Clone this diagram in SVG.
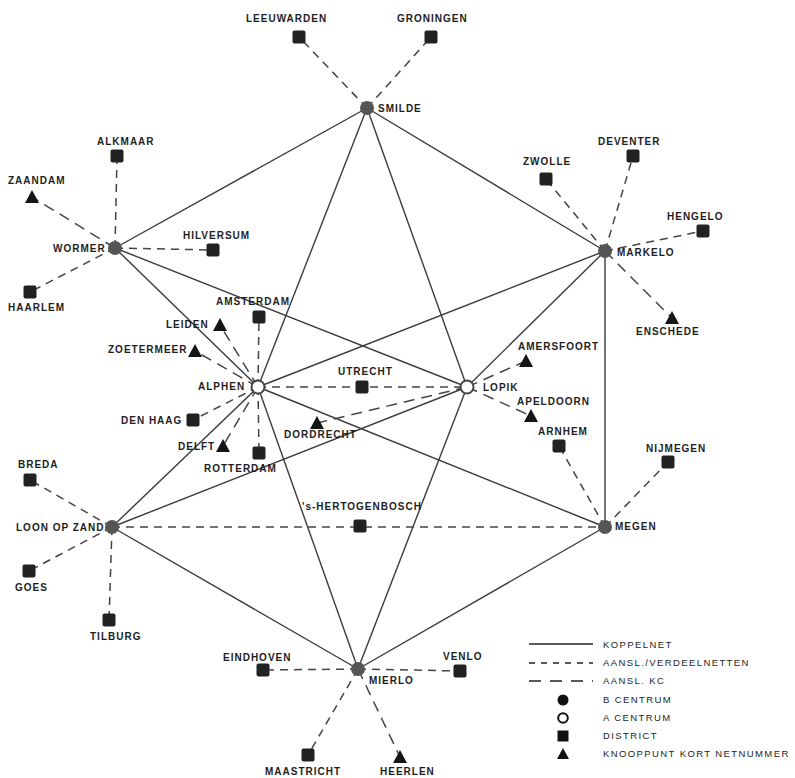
<svg xmlns="http://www.w3.org/2000/svg" xmlns:xlink="http://www.w3.org/1999/xlink" width="795" height="778" viewBox="0 0 795 778">
<style>
text{font-family:"Liberation Sans",Arial,sans-serif;font-size:10px;font-weight:bold;letter-spacing:1px;fill:#1e1e1e}
.leg text{font-weight:normal;font-size:9.5px;letter-spacing:1.4px}
.k{stroke:#3c3c3c;stroke-width:1.4;fill:none}
.d{stroke:#444;stroke-width:1.5;stroke-dasharray:8 6;fill:none}
.t{stroke:#444;stroke-width:1.5;stroke-dasharray:11 7;fill:none}
.b{fill:#555}
.a{fill:#fff;stroke:#444;stroke-width:2}
.sq{fill:#222}
.tr{fill:#151515}
</style>
<defs>
<rect id="sq" x="-6.5" y="-6.5" width="13" height="13" rx="2"/>
<polygon id="tr" points="0,-7 7,6 -7,6"/>
</defs>
<rect width="795" height="778" fill="#fff"/>
<g id="connectors">
<line class="k" x1="367" y1="108" x2="115" y2="248"/>
<line class="k" x1="367" y1="108" x2="605" y2="251"/>
<line class="k" x1="367" y1="108" x2="258" y2="387"/>
<line class="k" x1="367" y1="108" x2="467" y2="387"/>
<line class="k" x1="115" y1="248" x2="258" y2="387"/>
<line class="k" x1="115" y1="248" x2="467" y2="387"/>
<line class="k" x1="605" y1="251" x2="258" y2="387"/>
<line class="k" x1="605" y1="251" x2="467" y2="387"/>
<line class="k" x1="605" y1="251" x2="605" y2="527"/>
<line class="k" x1="112" y1="527" x2="258" y2="387"/>
<line class="k" x1="112" y1="527" x2="467" y2="387"/>
<line class="k" x1="112" y1="527" x2="358" y2="669"/>
<line class="k" x1="605" y1="527" x2="358" y2="669"/>
<line class="k" x1="258" y1="387" x2="605" y2="527"/>
<line class="k" x1="258" y1="387" x2="358" y2="669"/>
<line class="k" x1="467" y1="387" x2="358" y2="669"/>
<line class="d" x1="367" y1="108" x2="299" y2="37"/>
<line class="d" x1="367" y1="108" x2="431" y2="37"/>
<line class="d" x1="115" y1="248" x2="117" y2="156"/>
<line class="t" x1="115" y1="248" x2="32" y2="197"/>
<line class="d" x1="115" y1="248" x2="213" y2="250"/>
<line class="d" x1="115" y1="248" x2="30" y2="292"/>
<line class="d" x1="605" y1="251" x2="546" y2="179"/>
<line class="d" x1="605" y1="251" x2="633" y2="156"/>
<line class="d" x1="605" y1="251" x2="703" y2="231"/>
<line class="t" x1="605" y1="251" x2="672" y2="318"/>
<line class="d" x1="258" y1="387" x2="259" y2="317"/>
<line class="t" x1="258" y1="387" x2="220" y2="325"/>
<line class="t" x1="258" y1="387" x2="195" y2="351"/>
<line class="d" x1="258" y1="387" x2="193" y2="420"/>
<line class="t" x1="258" y1="387" x2="223" y2="446"/>
<line class="d" x1="258" y1="387" x2="259" y2="453"/>
<line class="d" x1="258" y1="387" x2="467" y2="387"/>
<line class="t" x1="467" y1="387" x2="526" y2="361"/>
<line class="t" x1="467" y1="387" x2="531" y2="416"/>
<line class="t" x1="467" y1="387" x2="317" y2="423"/>
<line class="d" x1="112" y1="527" x2="605" y2="527"/>
<line class="d" x1="112" y1="527" x2="30" y2="480"/>
<line class="d" x1="112" y1="527" x2="29" y2="571"/>
<line class="d" x1="112" y1="527" x2="109" y2="620"/>
<line class="d" x1="605" y1="527" x2="559" y2="446"/>
<line class="d" x1="605" y1="527" x2="668" y2="462"/>
<line class="d" x1="358" y1="669" x2="263" y2="670"/>
<line class="d" x1="358" y1="669" x2="460" y2="671"/>
<line class="d" x1="358" y1="669" x2="308" y2="755"/>
<line class="t" x1="358" y1="669" x2="400" y2="757"/>
</g>
<g id="smilde"><circle class="b" cx="367" cy="108" r="7"/><text x="378" y="112">SMILDE</text></g>
<g id="wormer"><circle class="b" cx="115" cy="248" r="7"/><text x="53" y="252">WORMER</text></g>
<g id="markelo"><circle class="b" cx="605" cy="251" r="7"/><text x="617" y="256">MARKELO</text></g>
<g id="loonopzand"><circle class="b" cx="112" cy="527" r="7"/><text x="16" y="531">LOON OP ZAND</text></g>
<g id="megen"><circle class="b" cx="605" cy="527" r="7"/><text x="615" y="530">MEGEN</text></g>
<g id="mierlo"><circle class="b" cx="358" cy="669" r="7"/><text x="369" y="684">MIERLO</text></g>
<g id="alphen"><circle class="a" cx="258" cy="387" r="6.5"/><text x="198" y="390">ALPHEN</text></g>
<g id="lopik"><circle class="a" cx="467" cy="387" r="6.5"/><text x="483" y="391">LOPIK</text></g>
<g id="leeuwarden"><use href="#sq" class="sq" x="299" y="37"/><text x="246" y="22">LEEUWARDEN</text></g>
<g id="groningen"><use href="#sq" class="sq" x="431" y="37"/><text x="397" y="22">GRONINGEN</text></g>
<g id="alkmaar"><use href="#sq" class="sq" x="117" y="156"/><text x="97" y="145">ALKMAAR</text></g>
<g id="zaandam"><use href="#tr" class="tr" x="32" y="197"/><text x="8" y="184">ZAANDAM</text></g>
<g id="hilversum"><use href="#sq" class="sq" x="213" y="250"/><text x="183" y="239">HILVERSUM</text></g>
<g id="haarlem"><use href="#sq" class="sq" x="30" y="292"/><text x="8" y="311">HAARLEM</text></g>
<g id="zwolle"><use href="#sq" class="sq" x="546" y="179"/><text x="523" y="165">ZWOLLE</text></g>
<g id="deventer"><use href="#sq" class="sq" x="633" y="156"/><text x="598" y="145">DEVENTER</text></g>
<g id="hengelo"><use href="#sq" class="sq" x="703" y="231"/><text x="667" y="220">HENGELO</text></g>
<g id="enschede"><use href="#tr" class="tr" x="672" y="318"/><text x="636" y="335">ENSCHEDE</text></g>
<g id="amsterdam"><use href="#sq" class="sq" x="259" y="317"/><text x="216" y="305">AMSTERDAM</text></g>
<g id="leiden"><use href="#tr" class="tr" x="220" y="325"/><text x="166" y="328">LEIDEN</text></g>
<g id="zoetermeer"><use href="#tr" class="tr" x="195" y="351"/><text x="108" y="353">ZOETERMEER</text></g>
<g id="denhaag"><use href="#sq" class="sq" x="193" y="420"/><text x="121" y="424">DEN HAAG</text></g>
<g id="delft"><use href="#tr" class="tr" x="223" y="446"/><text x="178" y="450">DELFT</text></g>
<g id="rotterdam"><use href="#sq" class="sq" x="259" y="453"/><text x="204" y="472">ROTTERDAM</text></g>
<g id="utrecht"><use href="#sq" class="sq" x="362" y="387"/><text x="338" y="375">UTRECHT</text></g>
<g id="dordrecht"><use href="#tr" class="tr" x="317" y="423"/><text x="284" y="438">DORDRECHT</text></g>
<g id="amersfoort"><use href="#tr" class="tr" x="526" y="361"/><text x="518" y="350">AMERSFOORT</text></g>
<g id="apeldoorn"><use href="#tr" class="tr" x="531" y="416"/><text x="517" y="405">APELDOORN</text></g>
<g id="arnhem"><use href="#sq" class="sq" x="559" y="446"/><text x="538" y="435">ARNHEM</text></g>
<g id="nijmegen"><use href="#sq" class="sq" x="668" y="462"/><text x="646" y="452">NIJMEGEN</text></g>
<g id="shertogenbosch"><use href="#sq" class="sq" x="360" y="526"/><text x="302" y="510">'s-HERTOGENBOSCH</text></g>
<g id="breda"><use href="#sq" class="sq" x="30" y="480"/><text x="18" y="468">BREDA</text></g>
<g id="goes"><use href="#sq" class="sq" x="29" y="571"/><text x="15" y="591">GOES</text></g>
<g id="tilburg"><use href="#sq" class="sq" x="109" y="620"/><text x="90" y="640">TILBURG</text></g>
<g id="eindhoven"><use href="#sq" class="sq" x="263" y="670"/><text x="223" y="661">EINDHOVEN</text></g>
<g id="venlo"><use href="#sq" class="sq" x="460" y="671"/><text x="443" y="660">VENLO</text></g>
<g id="maastricht"><use href="#sq" class="sq" x="308" y="755"/><text x="265" y="775">MAASTRICHT</text></g>
<g id="heerlen"><use href="#tr" class="tr" x="400" y="757"/><text x="380" y="775">HEERLEN</text></g>
<g id="legend" class="leg">
<line x1="529" y1="644" x2="593" y2="644" stroke="#222" stroke-width="1.3"/>
<line x1="529" y1="663" x2="593" y2="663" stroke="#222" stroke-width="1.3" stroke-dasharray="6 6"/>
<line x1="529" y1="681" x2="593" y2="681" stroke="#222" stroke-width="1.3" stroke-dasharray="12 9"/>
<circle cx="563" cy="700" r="5.5" fill="#111"/>
<circle cx="563" cy="718" r="4.8" fill="#fff" stroke="#111" stroke-width="2"/>
<rect x="557.5" y="730.5" width="11" height="11" fill="#111"/>
<polygon points="563,748 569,759 557,759" fill="#111"/>
<text x="603" y="648">KOPPELNET</text>
<text x="603" y="666">AANSL./VERDEELNETTEN</text>
<text x="603" y="684">AANSL. KC</text>
<text x="603" y="703">B CENTRUM</text>
<text x="603" y="721">A CENTRUM</text>
<text x="603" y="739">DISTRICT</text>
<text x="603" y="757">KNOOPPUNT KORT NETNUMMER</text>
</g>
</svg>
